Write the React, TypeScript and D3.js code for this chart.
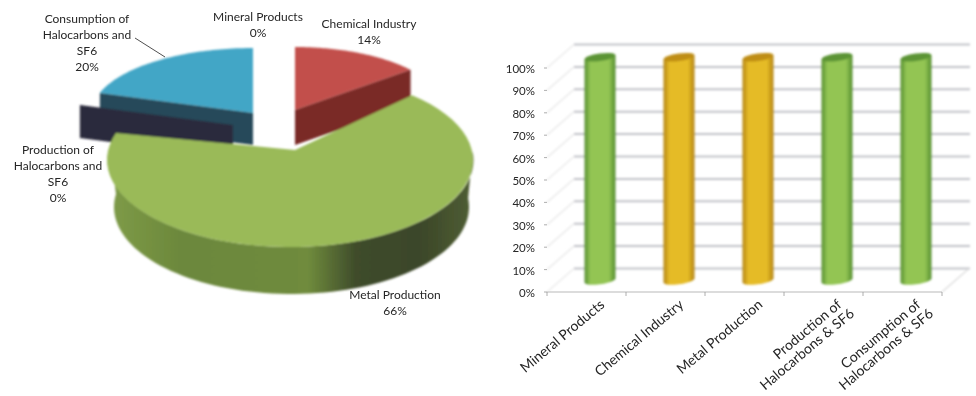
import React from "react";
import * as d3 from "d3";

// ---------- data ----------
const pieCategories = ["Mineral Products", "Chemical Industry", "Metal Production", "Production of Halocarbons and SF6", "Consumption of Halocarbons and SF6"];
const pieValues = [0, 14, 66, 0, 20];
const barCategories = [["Mineral Products"], ["Chemical Industry"], ["Metal Production"], ["Production of", "Halocarbons & SF6"], ["Consumption of", "Halocarbons & SF6"]];
const barValues = [100, 100, 100, 100, 100];
const barKinds = ["green", "yellow", "yellow", "green", "green"];
const yTicks = [0, 10, 20, 30, 40, 50, 60, 70, 80, 90, 100];

// ---------- style / layout ----------
const FONT = "Lato, 'Open Sans', sans-serif";
const TXT = "#262626";
const pieFrames = [
  { cx: 295, cy: 110, rx: 150, ry: 63, depth: 35, top: "#fff", side: "#fff" },
  { cx: 295, cy: 110, rx: 150, ry: 63, depth: 35, top: "#c24f4b", side: "#7a2a28" },
  { cx: 290, cy: 160, rx: 183, ry: 87, depth: 47, top: "#9aba59", side: "#6d8a3c" },
  { cx: 233, cy: 125, rx: 161, ry: 65, depth: 33, top: "#2b2a3c", side: "#2b2a3c" },
  { cx: 253, cy: 113, rx: 161, ry: 65, depth: 32, top: "#42a6c6", side: "#27495a" },
];
const metalApex: [number, number] = [295, 150];
const metalStartTrim = -0.15; // the projected rim of the big slice starts earlier than its flat angle
const pieLabels = [
  { lines: ["Mineral Products", "0%"], x: 258, y: 21 },
  { lines: ["Chemical Industry", "14%"], x: 369, y: 28 },
  { lines: ["Metal Production", "66%"], x: 395, y: 299 },
  { lines: ["Production of", "Halocarbons and", "SF6", "0%"], x: 58, y: 154 },
  { lines: ["Consumption of", "Halocarbons and", "SF6", "20%"], x: 87, y: 23 },
];
const barColors: Record<string, { edge: string; mid: string; top: string }> = {
  green: { edge: "#568f33", mid: "#93c553", top: "#5c9436" },
  yellow: { edge: "#b58516", mid: "#e5bb25", top: "#bf8e15" },
};

const y = d3.scaleLinear().domain([0, 100]).range([292, 68]);
const x = d3.scaleBand<number>().domain(d3.range(5)).range([547, 942]);
const DX = 27, DY = -23.5;
const BAR_W = 31;

const arcs = d3.pie<number>().sort(null).value((d) => d)(pieValues);
type F = (typeof pieFrames)[number];
const rim = (f: F, a: number, dy = 0): [number, number] => [f.cx + f.rx * Math.sin(a), f.cy + dy - f.ry * Math.cos(a)];
const line = d3.line();
const sector = (f: F, a0: number, a1: number, apex?: [number, number]) => {
  const n = 60;
  const pts = d3.range(n + 1).map((i) => rim(f, a0 + ((a1 - a0) * i) / n));
  return line([apex ?? [f.cx, f.cy], ...pts])! + "Z";
};
const cutFace = (f: F, a: number, apex?: [number, number]) => {
  const c: [number, number] = apex ?? [f.cx, f.cy];
  const r = rim(f, a);
  return line([c, r, [r[0], r[1] + f.depth], [c[0], c[1] + f.depth]])! + "Z";
};
const wall = (f: F, a0: number, a1: number) => {
  const n = 80;
  const t = d3.range(n + 1).map((i) => rim(f, a0 + ((a1 - a0) * i) / n));
  const b = d3.range(n + 1).map((i) => {
    const p = rim(f, a1 - ((a1 - a0) * i) / n, f.depth);
    return [p[0] + 1 - (p[0] - f.cx) * 0.03, p[1]] as [number, number];
  });
  return line([...t, ...b])! + "Z";
};

const Cyl = ({ i, kind, v }: { i: number; kind: string; v: number }) => {
  const c = barColors[kind];
  const cx = (x(i) as number) + x.bandwidth() / 2 + DX / 2;
  const top = y(v) + DY / 2 + 1;
  const bot = y(0) + DY / 2 + 0.5;
  const l = cx - BAR_W / 2, r = cx + BAR_W / 2;
  const d = `M${l},${top + 2}L${l},${bot + 1}A${BAR_W / 2},4 -8 0 0 ${r},${bot - 2}L${r},${top - 2}Z`;
  return (
    <g>
      <path d={d} fill={`url(#cyl-${kind})`} />
      <ellipse cx={cx} cy={top} rx={BAR_W / 2} ry={3.8} transform={`rotate(-8 ${cx} ${top})`} fill={c.top} />
    </g>
  );
};

export default function App() {
  const [, chem, metal, prod, cons] = arcs;
  const fc = pieFrames[1], fm = pieFrames[2], fp = pieFrames[3], fb = pieFrames[4];
  const wallFrame = { ...fm, cx: 290.5 };
  return (
    <svg width={976} height={396} style={{ position: "absolute", left: 0, top: 0, background: "#fff" }} fontFamily={FONT}>
      <defs>
        <filter id="soft" x="-5%" y="-5%" width="110%" height="110%">
          <feGaussianBlur stdDeviation="0.8" />
        </filter>
        <filter id="softTxt" x="-5%" y="-5%" width="110%" height="110%">
          <feGaussianBlur stdDeviation="0.25" />
        </filter>
        <linearGradient id="metalWall" gradientUnits="userSpaceOnUse" x1={107} x2={473} y1={0} y2={0}>
          <stop offset="0" stopColor="#7f9c48" />
          <stop offset="0.2" stopColor="#6c883c" />
          <stop offset="0.55" stopColor="#6f8b3c" />
          <stop offset="0.68" stopColor="#3f4c2b" />
          <stop offset="0.85" stopColor="#3b4629" />
          <stop offset="1" stopColor="#4f5e33" />
        </linearGradient>
        {Object.entries(barColors).map(([k, c]) => (
          <linearGradient key={k} id={`cyl-${k}`} x1="0" x2="1" y1="0" y2="0">
            <stop offset="0" stopColor={c.edge} />
            <stop offset="0.2" stopColor={c.mid} />
            <stop offset="0.78" stopColor={c.mid} />
            <stop offset="1" stopColor={c.edge} />
          </linearGradient>
        ))}
      </defs>

      {/* Pie */}
      <g filter="url(#soft)">
        <path d={sector(fb, cons.startAngle, cons.endAngle)} fill={fb.top} />
        <path d={cutFace(fb, cons.startAngle)} fill={fb.side} />
        <path d={cutFace(fp, prod.startAngle)} fill={fp.side} />
        <path d={sector(fc, chem.startAngle, chem.endAngle)} fill={fc.top} />
        <path d={cutFace(fc, chem.endAngle)} fill={fc.side} />
        <path d={wall(wallFrame, Math.PI / 2 - 0.1, (3 * Math.PI) / 2 + 0.15)} fill="url(#metalWall)" />
        <path d={sector(fm, metal.startAngle + metalStartTrim, metal.endAngle, metalApex)} fill={fm.top} />
      </g>
      <line x1={135} y1={38} x2={165} y2={57} stroke="#222" strokeWidth={0.8} />
      <g fontSize={12} fill={TXT} textAnchor="middle" filter="url(#softTxt)">
        {pieLabels.map((lb, i) => (
          <text key={pieCategories[i]} x={lb.x} y={lb.y}>
            {lb.lines.map((t, j) => (
              <tspan key={j} x={lb.x} dy={j ? 16 : 0}>{t}</tspan>
            ))}
          </text>
        ))}
      </g>

      {/* 3-D column chart */}
      <g filter="url(#soft)">
        {yTicks.map((t) => (
          <g key={t}>
            <line x1={x.range()[0]} y1={y(t)} x2={x.range()[0] + DX} y2={y(t) + DY} stroke="#ececec" strokeWidth={1.6} />
            <line x1={x.range()[0] + DX} y1={y(t) + DY} x2={970} y2={y(t) + DY} stroke="#c2c3c9" strokeWidth={2} />
          </g>
        ))}
        <line x1={x.range()[1]} y1={y(0)} x2={x.range()[1] + DX} y2={y(0) + DY} stroke="#dcdcdc" strokeWidth={1.2} />
      </g>
      <g stroke="#9a9a9a" strokeWidth={0.8}>
        <line x1={x.range()[0]} y1={y(0)} x2={x.range()[1]} y2={y(0)} stroke="#d0d0d0" strokeWidth={1.4} />
        {d3.range(6).map((i) => {
          const px = x.range()[0] + x.step() * i;
          return <line key={i} x1={px} x2={px} y1={y(0)} y2={y(0) + 4} />;
        })}
        {yTicks.map((t) => (
          <line key={t} x1={x.range()[0] - 3} x2={x.range()[0]} y1={y(t)} y2={y(t)} />
        ))}
      </g>
      <g filter="url(#soft)">
        {barValues.map((v, i) => (
          <Cyl key={i} i={i} kind={barKinds[i]} v={v} />
        ))}
      </g>
      <g fontSize={11.5} fill={TXT} filter="url(#softTxt)">
        {yTicks.map((t) => (
          <text key={t} x={535} y={y(t) + 5} textAnchor="end">{t}%</text>
        ))}
      </g>
      <g fontSize={14} fill={TXT} textAnchor="end" filter="url(#softTxt)">
        {barCategories.map((lines, i) => {
          const ax = (x(i) as number) + x.bandwidth() / 2 + 19;
          return (
            <text key={i} transform={`translate(${ax},${y(0) + 14}) rotate(-40)`}>
              {lines.map((t, j) => (
                <tspan key={j} x={j ? 4 : 0} y={j * 15}>{t}</tspan>
              ))}
            </text>
          );
        })}
      </g>
    </svg>
  );
}
